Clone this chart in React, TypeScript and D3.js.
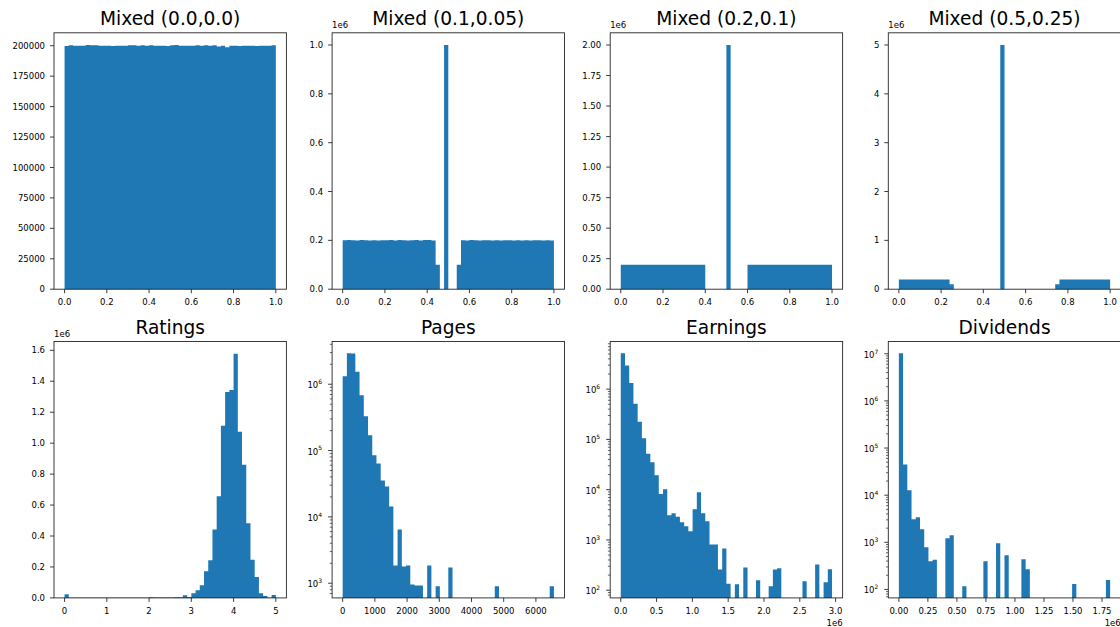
import React from 'react';
import * as d3 from 'd3';

// ---------------- DATA ----------------
const titles = [
  'Mixed (0.0,0.0)', 'Mixed (0.1,0.05)', 'Mixed (0.2,0.1)', 'Mixed (0.5,0.25)',
  'Ratings', 'Pages', 'Earnings', 'Dividends',
];

const mixed00Counts = [
  199800, 200500, 199900, 200000, 199900, 200600, 200500, 200400, 199900, 200000,
  199900, 199800, 200000, 199900, 200000, 200500, 200400, 199900, 200500, 200000,
  200500, 199900, 200000, 199900, 199800, 200500, 200600, 199900, 200000, 199900,
  200000, 200500, 200000, 200400, 199900, 200500, 199300, 200000, 198700, 199900,
  200000, 199800, 199900, 200000, 199900, 199800, 200000, 199900, 199900, 200500,
];

const mixed01Counts = [
  200000, 201500, 200000, 199800, 201500, 200000, 199900, 200000, 199800, 200000,
  200100, 201500, 199900, 201500, 200000, 199800, 200000, 201500, 199900, 201500,
  201500, 199900, 100000, 0, 1000000, 0, 0, 100000, 200000, 199900,
  201500, 200000, 199800, 200000, 200100, 199900, 200000, 199800, 200000, 200100,
  199900, 200000, 199800, 200000, 199900, 200100, 200000, 199900, 200000, 199800,
];

const mixed02Counts = [
  200000, 199900, 200100, 200000, 199800, 200000, 200100, 199900, 200000, 200100,
  199900, 200000, 199800, 200000, 200100, 199900, 200000, 200100, 199900, 200000,
  0, 0, 0, 0, 0, 2000000, 0, 0, 0, 0,
  200000, 199900, 200100, 200000, 199800, 200000, 200100, 199900, 200000, 200100,
  199900, 200000, 199800, 200000, 200100, 199900, 200000, 200100, 199900, 200000,
];

const mixed05Counts = [
  200000, 199900, 200100, 200000, 199800, 200000, 200100, 199900, 200000, 200100,
  199900, 200000, 100000, 0, 0, 0, 0, 0, 0, 0,
  0, 0, 0, 0, 5000000, 0, 0, 0, 0, 0,
  0, 0, 0, 0, 0, 0, 0, 100000, 200000, 199900,
  200100, 200000, 199800, 200000, 200100, 199900, 200000, 200100, 199900, 200000,
];

const ratingsCounts = [
  24000, 300, 200, 300, 400, 500, 300, 400, 500, 600,
  1500, 700, 800, 900, 1000, 1500, 1200, 1300, 1500, 1600,
  5000, 1800, 2000, 2200, 2500, 3000, 4000, 5000, 17000, 6000,
  30000, 49000, 82000, 172000, 243000, 442000, 657000, 1112000, 1331000, 1344000,
  1578000, 1074000, 861000, 483000, 247000, 135000, 30000, 13000, 1500, 19000,
];

const pagesCounts = [
  1320000, 2940000, 2900000, 1540000, 680000, 329000, 170000, 84600, 64000, 35500,
  28800, 14400, 1850, 6460, 1780, 1850, 953, 920, 920, 0,
  1850, 0, 900, 0, 0, 1720, 0, 0, 0, 0,
  0, 0, 0, 0, 0, 0, 900, 0, 0, 0,
  0, 0, 0, 0, 0, 0, 0, 0, 0, 900,
];

const earningsCounts = [
  5200000, 2950000, 1320000, 510000, 224000, 105000, 52000, 35000, 19300, 8200,
  10200, 3090, 3390, 2910, 2240, 1870, 1490, 4070, 8850, 3390,
  2350, 808, 808, 257, 673, 135, 0, 131, 0, 282,
  0, 0, 158, 0, 0, 120, 257, 273, 0, 0,
  0, 0, 0, 151, 0, 0, 324, 0, 144, 260,
];

const dividendsCounts = [
  10300000, 45000, 12700, 3090, 3400, 1900, 789, 398, 425, 0,
  0, 1220, 1420, 0, 0, 117, 0, 0, 0, 0,
  398, 0, 0, 955, 0, 533, 0, 0, 0, 440,
  270, 0, 0, 0, 0, 0, 0, 0, 0, 0,
  0, 130, 0, 0, 0, 0, 0, 0, 0, 158,
];

// bin ranges (min, max of the data)
const binRanges: [number, number][] = [
  [0, 1], [0, 1], [0, 1], [0, 1],
  [0, 5], [0, 6560], [0, 2950000], [0, 1820000],
];

// tick values
const unitTicks = [0, 0.2, 0.4, 0.6, 0.8, 1.0];
const ratingsXTicks = [0, 1, 2, 3, 4, 5];
const pagesXTicks = [0, 1000, 2000, 3000, 4000, 5000, 6000];
const earningsXTicks = [0, 500000, 1000000, 1500000, 2000000, 2500000, 3000000];
const dividendsXTicks = [0, 250000, 500000, 750000, 1000000, 1250000, 1500000, 1750000];

const mixed00YTicks = [0, 25000, 50000, 75000, 100000, 125000, 150000, 175000, 200000];
const mixed01YTicks = [0, 200000, 400000, 600000, 800000, 1000000];
const mixed02YTicks = [0, 250000, 500000, 750000, 1000000, 1250000, 1500000, 1750000, 2000000];
const mixed05YTicks = [0, 1000000, 2000000, 3000000, 4000000, 5000000];
const ratingsYTicks = [0, 200000, 400000, 600000, 800000, 1000000, 1200000, 1400000, 1600000];

// ---------------- LAYOUT ----------------
const COL_LEFT = [54, 332.1, 610.2, 888.3];
const ROW_TOP = [32.8, 341.5];
const W = 232.4;
const H = 256.4;
const BLUE = '#1f77b4';
const SPINE = '#262626';
const TICK_FS = 8.5;
const TITLE_FS = 18.6;

type Panel = {
  title: string;
  counts: number[];
  range: [number, number];
  log: boolean;
  xTicks: number[];
  xFmt: (v: number) => string;
  yTicks?: number[];
  yFmt?: (v: number) => string;
  topOffset?: boolean;
  bottomOffset?: boolean;
};

const f = (d: number, div = 1) => (v: number) => (v / div).toFixed(d);

const panels: Panel[] = [
  { title: titles[0], counts: mixed00Counts, range: binRanges[0], log: false, xTicks: unitTicks, xFmt: f(1), yTicks: mixed00YTicks, yFmt: f(0) },
  { title: titles[1], counts: mixed01Counts, range: binRanges[1], log: false, xTicks: unitTicks, xFmt: f(1), yTicks: mixed01YTicks, yFmt: f(1, 1e6), topOffset: true },
  { title: titles[2], counts: mixed02Counts, range: binRanges[2], log: false, xTicks: unitTicks, xFmt: f(1), yTicks: mixed02YTicks, yFmt: f(2, 1e6), topOffset: true },
  { title: titles[3], counts: mixed05Counts, range: binRanges[3], log: false, xTicks: unitTicks, xFmt: f(1), yTicks: mixed05YTicks, yFmt: f(0, 1e6), topOffset: true },
  { title: titles[4], counts: ratingsCounts, range: binRanges[4], log: false, xTicks: ratingsXTicks, xFmt: f(0), yTicks: ratingsYTicks, yFmt: f(1, 1e6), topOffset: true },
  { title: titles[5], counts: pagesCounts, range: binRanges[5], log: true, xTicks: pagesXTicks, xFmt: f(0) },
  { title: titles[6], counts: earningsCounts, range: binRanges[6], log: true, xTicks: earningsXTicks, xFmt: f(1, 1e6), bottomOffset: true },
  { title: titles[7], counts: dividendsCounts, range: binRanges[7], log: true, xTicks: dividendsXTicks, xFmt: f(2, 1e6), bottomOffset: true },
];

function Hist({ p, left, top }: { p: Panel; left: number; top: number }) {
  const [lo, hi] = p.range;
  const R = hi - lo;
  const x = d3.scaleLinear().domain([lo - 0.05 * R, hi + 0.05 * R]).range([0, W]);
  const n = p.counts.length;
  const bw = R / n;
  const positive = p.counts.filter((c) => c > 0);
  let y: any;
  const yMinorTicks: number[] = [];
  const yMajorLog: number[] = [];
  if (p.log) {
    const lmin = Math.log10(d3.min(positive) as number);
    const lmax = Math.log10(d3.max(positive) as number);
    const m = 0.05 * (lmax - lmin);
    const d0 = Math.pow(10, lmin - m);
    const d1 = Math.pow(10, lmax + m);
    y = d3.scaleLog().domain([d0, d1]).range([H, 0]);
    for (let k = Math.floor(lmin - m); k <= Math.ceil(lmax + m); k++) {
      const v = Math.pow(10, k);
      if (v >= d0 && v <= d1) yMajorLog.push(k);
      for (let s = 2; s <= 9; s++) {
        const mv = s * v;
        if (mv >= d0 && mv <= d1) yMinorTicks.push(mv);
      }
    }
  } else {
    y = d3.scaleLinear().domain([0, (d3.max(p.counts) as number) * 1.05]).range([H, 0]);
  }

  // all bars in one path so adjacent bars have no antialiasing seams
  const path = d3.path();
  p.counts.forEach((c, i) => {
    if (c <= 0) return;
    const x0 = x(lo + i * bw);
    const x1 = x(lo + (i + 1) * bw);
    const yt = y(c);
    const yb = p.log ? H : y(0);
    path.rect(x0, yt, x1 - x0, Math.max(0, yb - yt));
  });

  return (
    <g transform={`translate(${left},${top})`}>
      <text x={W / 2} y={-7.6} textAnchor="middle" fontSize={TITLE_FS} fill="#000">{p.title}</text>
      <path d={path.toString()} fill={BLUE} />
      {/* x ticks */}
      {p.xTicks.map((t, i) => (
        <g key={'xt' + i} transform={`translate(${x(t)},${H})`}>
          <line y1={0} y2={4} stroke={SPINE} strokeWidth={0.9} />
          <text y={16} textAnchor="middle" fontSize={TICK_FS} fill="#000">{p.xFmt(t)}</text>
        </g>
      ))}
      {/* y ticks linear */}
      {!p.log && p.yTicks && p.yTicks.map((t, i) => (
        <g key={'yt' + i} transform={`translate(0,${y(t)})`}>
          <line x1={-4} x2={0} stroke={SPINE} strokeWidth={0.9} />
          <text x={-9} y={3.1} textAnchor="end" fontSize={TICK_FS} fill="#000">{p.yFmt!(t)}</text>
        </g>
      ))}
      {/* y ticks log */}
      {p.log && yMinorTicks.map((t, i) => (
        <line key={'ym' + i} x1={-2.3} x2={0} y1={y(t)} y2={y(t)} stroke={SPINE} strokeWidth={0.7} />
      ))}
      {p.log && yMajorLog.map((k) => (
        <g key={'yM' + k} transform={`translate(0,${y(Math.pow(10, k))})`}>
          <line x1={-4} x2={0} stroke={SPINE} strokeWidth={0.9} />
          <text x={-10} y={4} textAnchor="end" fontSize={TICK_FS} fill="#000">
            10<tspan dy={-4.2} fontSize={6}>{k}</tspan>
          </text>
        </g>
      ))}
      {p.topOffset && (
        <text x={0} y={-4.5} fontSize={TICK_FS} fill="#000">1e6</text>
      )}
      {p.bottomOffset && (
        <text x={W} y={H + 28} textAnchor="end" fontSize={TICK_FS} fill="#000">1e6</text>
      )}
      <rect x={0} y={0} width={W} height={H} fill="none" stroke={SPINE} strokeWidth={0.9} />
    </g>
  );
}

export default function App() {
  return (
    <svg
      width={1120}
      height={627}
      style={{ position: 'absolute', left: 0, top: 0, display: 'block' }}
      fontFamily="'DejaVu Sans', sans-serif"
    >
      <rect x={0} y={0} width={1120} height={627} fill="#fff" />
      {panels.map((p, i) => (
        <Hist key={i} p={p} left={COL_LEFT[i % 4]} top={ROW_TOP[Math.floor(i / 4)]} />
      ))}
    </svg>
  );
}
